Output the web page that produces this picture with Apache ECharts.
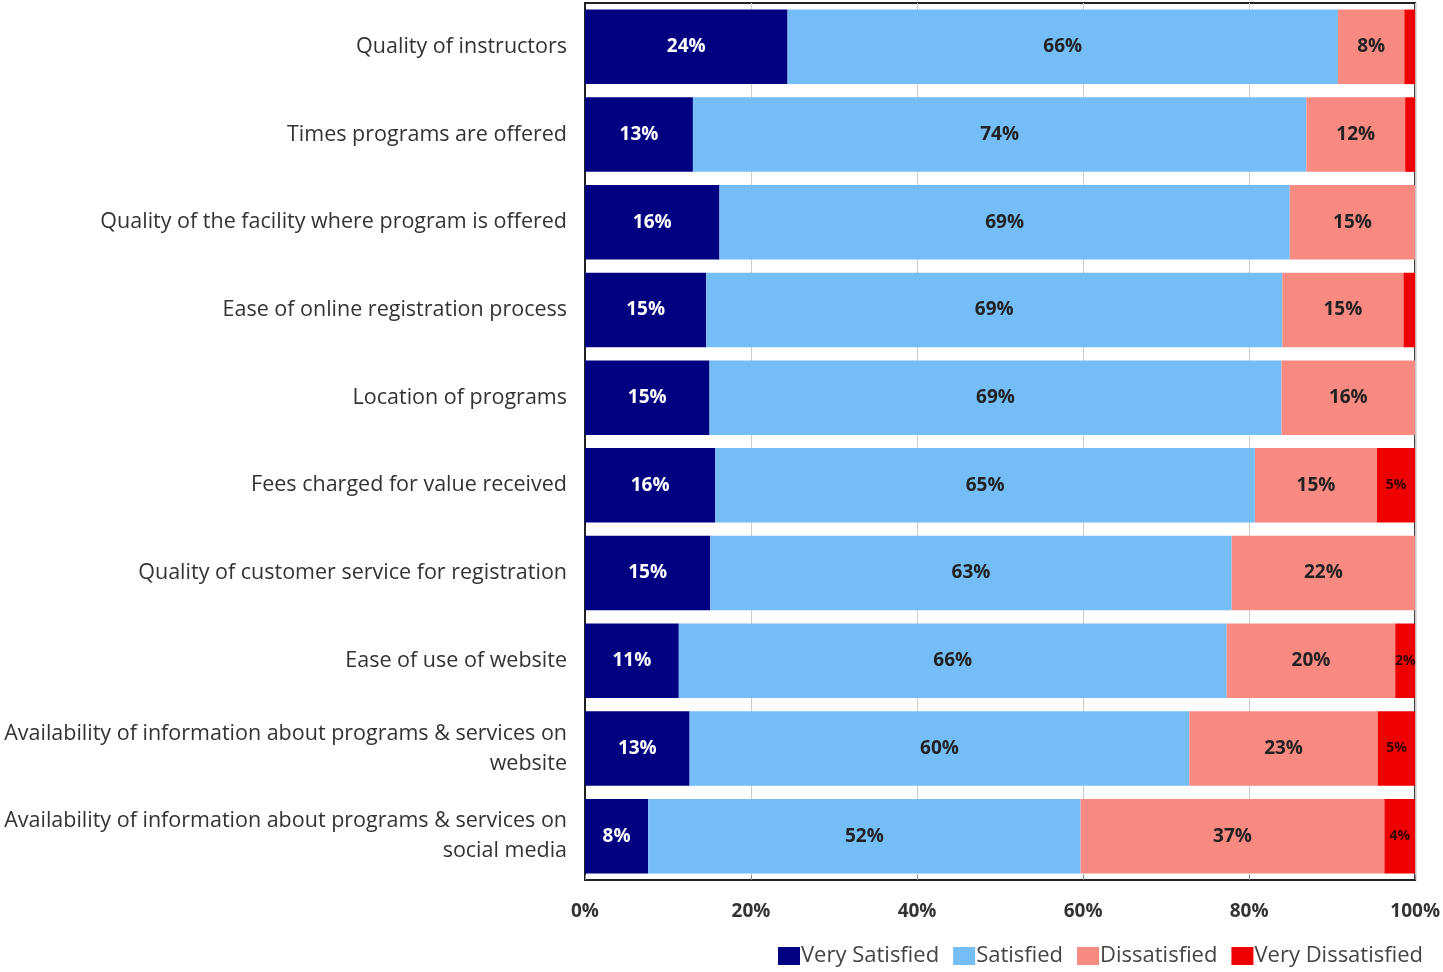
<!DOCTYPE html>
<html>
<head>
    <meta charset="utf-8"/>
    <title>Satisfaction</title>
    <script src="https://cdn.jsdelivr.net/npm/echarts@6/dist/echarts.min.js"></script>
</head>
<body style="margin:0">
<div id="main" style="width: 1443px; height: 972px"></div>
<script type="text/javascript">
    var categories = [
        'Quality of instructors',
        'Times programs are offered',
        'Quality of the facility where program is offered',
        'Ease of online registration process',
        'Location of programs',
        'Fees charged for value received',
        'Quality of customer service for registration',
        'Ease of use of website',
        'Availability of information about programs & services on\nwebsite',
        'Availability of information about programs & services on\nsocial media'
    ];
    var verySatisfied = [24.4, 13.0, 16.2, 14.6, 15.0, 15.7, 15.1, 11.3, 12.6, 7.6];
    var satisfied = [66.3, 73.9, 68.7, 69.4, 68.9, 65.0, 62.8, 66.0, 60.2, 52.1];
    var dissatisfied = [8.0, 11.9, 15.1, 14.6, 16.1, 14.7, 22.1, 20.3, 22.7, 36.6];
    var veryDissatisfied = [1.3, 1.2, 0, 1.4, 0, 4.6, 0, 2.4, 4.5, 3.7];
    var xTicks = [0, 20, 40, 60, 80, 100];

    var font = '"Open Sans", Lato, sans-serif';
    var myChart = echarts.init(document.getElementById("main"));

    function pct(p) { return Math.round(p.value) + '%'; }

    function makeSeries(name, data, color, labelColor, minShow, size) {
        return {
            name: name,
            type: 'bar',
            stack: 'total',
            barCategoryGap: '15%',
            data: data,
            itemStyle: { color: color },
            label: {
                show: true,
                position: 'inside',
                color: labelColor,
                fontFamily: font,
                fontWeight: 'bold',
                fontSize: size,
                formatter: function (p) {
                    return p.value >= minShow ? pct(p) : '';
                }
            }
        };
    }

    var option = {
        textStyle: { fontFamily: font },
        grid: {
            left: 585,
            right: 25,
            top: 3,
            bottom: 92,
            show: true,
            borderColor: '#222',
            borderWidth: 2
        },
        legend: {
            bottom: 0,
            left: 773,
            itemWidth: 22,
            itemHeight: 18,
            itemGap: 14,
            icon: 'rect',
            textStyle: { fontSize: 22, color: '#444', fontFamily: font, padding: [0, 0, 0, -4] },
            data: ['Very Satisfied', 'Satisfied', 'Dissatisfied', 'Very Dissatisfied']
        },
        xAxis: {
            type: 'value',
            min: 0,
            max: 100,
            interval: 20,
            axisLine: { show: true, lineStyle: { color: '#222', width: 2 } },
            axisTick: { show: true, inside: true, length: 5, lineStyle: { color: '#888' } },
            splitLine: { show: true, lineStyle: { color: '#ccc' } },
            axisLabel: {
                margin: 22,
                fontSize: 19,
                fontWeight: 'bold',
                color: '#333',
                fontFamily: font,
                formatter: function (v) { return xTicks.indexOf(v) >= 0 ? v + '%' : ''; }
            }
        },
        yAxis: {
            type: 'category',
            inverse: true,
            data: categories,
            axisLine: { show: true, lineStyle: { color: '#222', width: 2 } },
            axisTick: { show: false },
            axisLabel: {
                margin: 18,
                fontSize: 21.5,
                color: '#333',
                fontFamily: font,
                align: 'right',
                lineHeight: 30
            }
        },
        series: [
            makeSeries('Very Satisfied', verySatisfied, '#000080', '#fff', 1, 19),
            makeSeries('Satisfied', satisfied, '#75bdf7', '#222', 1, 19),
            makeSeries('Dissatisfied', dissatisfied, '#f98a82', '#222', 1, 19),
            makeSeries('Very Dissatisfied', veryDissatisfied, '#ee0000', '#300', 2, 14)
        ]
    };

    myChart.setOption(option);
</script>
</body>
</html>
